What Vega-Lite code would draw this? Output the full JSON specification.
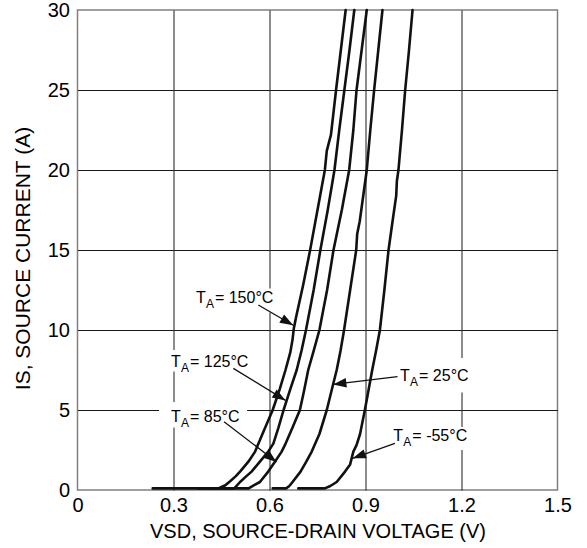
{
  "$schema": "https://vega.github.io/schema/vega-lite/v6.json",
  "width": 480,
  "height": 480,
  "autosize": {"type": "none"},
  "padding": {"left": 77.5, "top": 10, "right": 29.5, "bottom": 58},
  "background": "white",
  "config": {
    "font": "Liberation Sans",
    "view": {"stroke": "#808080", "strokeWidth": 1.5},
    "axis": {
      "grid": true,
      "gridColor": "#1a1a1a",
      "gridWidth": 1,
      "ticks": false,
      "domain": false,
      "labelFont": "Liberation Sans",
      "labelColor": "#000000",
      "labelFontSize": 20,
      "labelFlush": false,
      "titleFont": "Liberation Sans",
      "titleFontWeight": "normal",
      "titleColor": "#000000"
    }
  },
  "datasets": {
    "curves": [
      {"series": "150", "v": 0.235, "i": 0.1}, {"series": "150", "v": 0.44, "i": 0.1}, {"series": "150", "v": 0.462, "i": 0.3},
      {"series": "150", "v": 0.477, "i": 0.55}, {"series": "150", "v": 0.494, "i": 0.85}, {"series": "150", "v": 0.508, "i": 1.15},
      {"series": "150", "v": 0.534, "i": 1.77}, {"series": "150", "v": 0.555, "i": 2.4}, {"series": "150", "v": 0.578, "i": 3.5},
      {"series": "150", "v": 0.61, "i": 5}, {"series": "150", "v": 0.632, "i": 6.3}, {"series": "150", "v": 0.65, "i": 7.5},
      {"series": "150", "v": 0.665, "i": 8.6}, {"series": "150", "v": 0.672, "i": 9.4}, {"series": "150", "v": 0.676, "i": 10.1},
      {"series": "150", "v": 0.683, "i": 10.8}, {"series": "150", "v": 0.705, "i": 12.8}, {"series": "150", "v": 0.727, "i": 15},
      {"series": "150", "v": 0.75, "i": 17.5}, {"series": "150", "v": 0.773, "i": 20}, {"series": "150", "v": 0.779, "i": 21.2},
      {"series": "150", "v": 0.792, "i": 22.2}, {"series": "150", "v": 0.808, "i": 25}, {"series": "150", "v": 0.823, "i": 27.5},
      {"series": "150", "v": 0.838, "i": 30},
      {"series": "125", "v": 0.375, "i": 0.1}, {"series": "125", "v": 0.49, "i": 0.1}, {"series": "125", "v": 0.508, "i": 0.5},
      {"series": "125", "v": 0.527, "i": 0.85}, {"series": "125", "v": 0.544, "i": 1.15}, {"series": "125", "v": 0.57, "i": 1.77},
      {"series": "125", "v": 0.596, "i": 2.4}, {"series": "125", "v": 0.612, "i": 2.9}, {"series": "125", "v": 0.628, "i": 3.9},
      {"series": "125", "v": 0.644, "i": 5}, {"series": "125", "v": 0.665, "i": 6.3}, {"series": "125", "v": 0.685, "i": 7.5},
      {"series": "125", "v": 0.7, "i": 8.7}, {"series": "125", "v": 0.714, "i": 10}, {"series": "125", "v": 0.738, "i": 12.5},
      {"series": "125", "v": 0.759, "i": 15}, {"series": "125", "v": 0.782, "i": 17.5}, {"series": "125", "v": 0.803, "i": 20},
      {"series": "125", "v": 0.818, "i": 22.5}, {"series": "125", "v": 0.834, "i": 25}, {"series": "125", "v": 0.85, "i": 27.5},
      {"series": "125", "v": 0.865, "i": 30},
      {"series": "85", "v": 0.42, "i": 0.1}, {"series": "85", "v": 0.535, "i": 0.1}, {"series": "85", "v": 0.552, "i": 0.3},
      {"series": "85", "v": 0.57, "i": 0.5}, {"series": "85", "v": 0.596, "i": 1.15}, {"series": "85", "v": 0.617, "i": 1.77},
      {"series": "85", "v": 0.638, "i": 2.4}, {"series": "85", "v": 0.648, "i": 2.8}, {"series": "85", "v": 0.672, "i": 3.9},
      {"series": "85", "v": 0.695, "i": 5}, {"series": "85", "v": 0.708, "i": 6.2}, {"series": "85", "v": 0.721, "i": 7.5},
      {"series": "85", "v": 0.738, "i": 8.7}, {"series": "85", "v": 0.756, "i": 10}, {"series": "85", "v": 0.78, "i": 12.5},
      {"series": "85", "v": 0.8, "i": 15}, {"series": "85", "v": 0.826, "i": 17.5}, {"series": "85", "v": 0.849, "i": 20},
      {"series": "85", "v": 0.862, "i": 22.5}, {"series": "85", "v": 0.872, "i": 25}, {"series": "85", "v": 0.888, "i": 27.5},
      {"series": "85", "v": 0.904, "i": 30},
      {"series": "25", "v": 0.61, "i": 0.1}, {"series": "25", "v": 0.652, "i": 0.1}, {"series": "25", "v": 0.662, "i": 0.25},
      {"series": "25", "v": 0.672, "i": 0.5}, {"series": "25", "v": 0.697, "i": 1.15}, {"series": "25", "v": 0.715, "i": 1.77},
      {"series": "25", "v": 0.732, "i": 2.4}, {"series": "25", "v": 0.756, "i": 3.5}, {"series": "25", "v": 0.779, "i": 5},
      {"series": "25", "v": 0.795, "i": 6.3}, {"series": "25", "v": 0.81, "i": 7.5}, {"series": "25", "v": 0.822, "i": 8.7},
      {"series": "25", "v": 0.833, "i": 10}, {"series": "25", "v": 0.852, "i": 12.5}, {"series": "25", "v": 0.871, "i": 15},
      {"series": "25", "v": 0.874, "i": 16}, {"series": "25", "v": 0.882, "i": 16.8}, {"series": "25", "v": 0.904, "i": 20},
      {"series": "25", "v": 0.915, "i": 22.5}, {"series": "25", "v": 0.927, "i": 25}, {"series": "25", "v": 0.94, "i": 27.5},
      {"series": "25", "v": 0.953, "i": 30},
      {"series": "-55", "v": 0.69, "i": 0.1}, {"series": "-55", "v": 0.773, "i": 0.1}, {"series": "-55", "v": 0.79, "i": 0.25},
      {"series": "-55", "v": 0.81, "i": 0.5}, {"series": "-55", "v": 0.836, "i": 1.15}, {"series": "-55", "v": 0.852, "i": 1.6},
      {"series": "-55", "v": 0.862, "i": 2.4}, {"series": "-55", "v": 0.872, "i": 2.8}, {"series": "-55", "v": 0.883, "i": 3.5},
      {"series": "-55", "v": 0.898, "i": 5}, {"series": "-55", "v": 0.91, "i": 6.3}, {"series": "-55", "v": 0.921, "i": 7.5},
      {"series": "-55", "v": 0.933, "i": 8.7}, {"series": "-55", "v": 0.945, "i": 10}, {"series": "-55", "v": 0.959, "i": 12.5},
      {"series": "-55", "v": 0.972, "i": 15}, {"series": "-55", "v": 0.986, "i": 17}, {"series": "-55", "v": 0.996, "i": 18.4},
      {"series": "-55", "v": 0.998, "i": 19.3}, {"series": "-55", "v": 1.003, "i": 20}, {"series": "-55", "v": 1.014, "i": 22.5},
      {"series": "-55", "v": 1.024, "i": 25}, {"series": "-55", "v": 1.036, "i": 27.5}, {"series": "-55", "v": 1.047, "i": 30}
    ],
    "boxes": [
      {"v": 0.352, "i": 12.6, "v2": 0.627, "i2": 11.1},
      {"v": 0.273, "i": 8.75, "v2": 0.548, "i2": 7.4},
      {"v": 0.255, "i": 5.5, "v2": 0.53, "i2": 3.9},
      {"v": 0.989, "i": 8.25, "v2": 1.227, "i2": 6.1},
      {"v": 0.967, "i": 3.94, "v2": 1.227, "i2": 2.5}
    ],
    "labels": [
      {"v": 0.37, "i": 11.7, "rest": "= 150°C"},
      {"v": 0.292, "i": 7.7, "rest": "= 125°C"},
      {"v": 0.292, "i": 4.27, "rest": "= 85°C"},
      {"v": 1.008, "i": 6.8, "rest": "= 25°C"},
      {"v": 0.987, "i": 3.06, "rest": "= -55°C"}
    ],
    "arrows": [
      {"v": 0.674, "i": 10.3, "v0": 0.565, "i0": 11.56},
      {"v": 0.65, "i": 5.6, "v0": 0.487, "i0": 7.6},
      {"v": 0.622, "i": 1.75, "v0": 0.458, "i0": 4.27},
      {"v": 0.799, "i": 6.6, "v0": 1.0, "i0": 7.08},
      {"v": 0.86, "i": 1.98, "v0": 0.992, "i0": 2.92}
    ]
  },
  "encoding": {
    "x": {
      "field": "v",
      "type": "quantitative",
      "title": "VSD, SOURCE-DRAIN VOLTAGE (V)",
      "scale": {"domain": [0, 1.5], "nice": false, "zero": false},
      "axis": {
        "values": [0, 0.3, 0.6, 0.9, 1.2, 1.5],
        "format": "~g",
        "labelPadding": 5,
        "titlePadding": 6,
        "titleFontSize": 20,
        "gridOpacity": {"condition": {"test": "datum.value == 0 || datum.value == 1.5", "value": 0}, "value": 1}
      }
    },
    "y": {
      "field": "i",
      "type": "quantitative",
      "title": "IS, SOURCE CURRENT (A)",
      "scale": {"domain": [0, 30], "nice": false},
      "axis": {
        "values": [0, 5, 10, 15, 20, 25, 30],
        "labelPadding": 8,
        "titlePadding": 14,
        "titleFontSize": 21,
        "titleY": 248,
        "gridOpacity": {"condition": {"test": "datum.value == 0 || datum.value == 30", "value": 0}, "value": 1}
      }
    }
  },
  "layer": [
    {
      "data": {"name": "boxes"},
      "mark": {"type": "rect", "color": "white", "strokeWidth": 0},
      "encoding": {"x2": {"field": "v2"}, "y2": {"field": "i2"}}
    },
    {
      "data": {"name": "curves"},
      "mark": {"type": "line", "color": "#111111", "strokeWidth": 2.6, "strokeJoin": "round", "strokeCap": "round"},
      "encoding": {"detail": {"field": "series", "type": "nominal"}}
    },
    {
      "data": {"name": "arrows"},
      "mark": {"type": "rule", "color": "#111111", "strokeWidth": 1.3},
      "encoding": {"x2": {"field": "v0"}, "y2": {"field": "i0"}}
    },
    {
      "data": {"name": "arrows"},
      "transform": [
        {"calculate": "atan2((datum.v - datum.v0) * 320, (datum.i - datum.i0) * 16) * 180 / PI", "as": "ang"}
      ],
      "mark": {"type": "point", "shape": "M0,0L0.36,1L-0.36,1Z", "filled": true, "color": "#111111", "opacity": 1, "size": 700},
      "encoding": {"angle": {"field": "ang", "type": "quantitative", "scale": null}}
    },
    {
      "data": {"name": "labels"},
      "mark": {"type": "text", "text": "T", "align": "left", "baseline": "alphabetic", "fontSize": 16, "color": "#000000"}
    },
    {
      "data": {"name": "labels"},
      "mark": {"type": "text", "text": "A", "align": "left", "baseline": "alphabetic", "fontSize": 12, "dx": 10, "dy": 5, "color": "#000000"}
    },
    {
      "data": {"name": "labels"},
      "mark": {"type": "text", "align": "left", "baseline": "alphabetic", "fontSize": 16, "dx": 19, "color": "#000000"},
      "encoding": {"text": {"field": "rest", "type": "nominal"}}
    }
  ]
}
